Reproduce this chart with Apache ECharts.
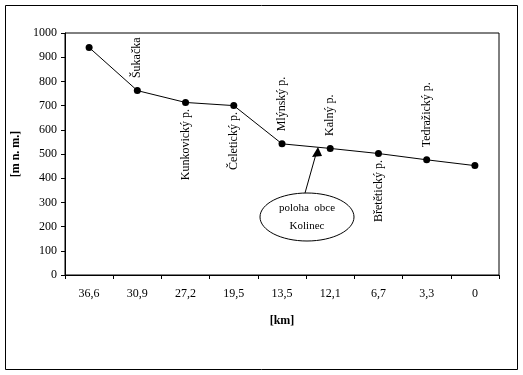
<!DOCTYPE html>
<html>
<head>
<meta charset="utf-8">
<script src="https://cdn.jsdelivr.net/npm/echarts@6/dist/echarts.min.js"></script>
<style>
    html, body { margin: 0; padding: 0; background: #fff; }
    #chart { width: 523px; height: 375px; }
</style>
</head>
<body>
<div id="chart"></div>
<script>
    // vzdálenost od ústí [km]
    let km = ['36,6', '30,9', '27,2', '19,5', '13,5', '12,1', '6,7', '3,3', '0'];
    // nadmořská výška [m n. m.]
    let vyska = [940, 762, 713, 700, 542, 523, 502, 476, 452];
    // názvy přítoků u bodů ('' = bez popisku)
    let pritoky = ['', 'Šukačka', 'Kunkovický p.', 'Čeletický p.', 'Mlýnský p.', 'Kalný p.', 'Břetětický p.', 'Tedražický p.', ''];
    let polohaPopisku = ['', 'top', 'bottom', 'bottom', 'top', 'top', 'bottom', 'top', ''];

    let font = 'Liberation Serif';

    let data = vyska.map(function (v, i) {
        let item = {value: v};
        if (pritoky[i]) {
            let nahoru = polohaPopisku[i] === 'top';
            item.label = {
                show: true,
                formatter: pritoky[i],
                position: polohaPopisku[i],
                rotate: 90,
                align: nahoru ? 'left' : 'right',
                verticalAlign: 'middle',
                distance: 6,
                offset: [3, 0],
                color: '#000',
                fontFamily: font,
                fontSize: 12
            };
        }
        return item;
    });

    let chart = echarts.init(document.getElementById('chart'));
    chart.setOption({
        animation: false,
        backgroundColor: '#fff',
        grid: {
            left: 65,
            top: 33,
            right: 24,
            bottom: 100,
            show: true,
            borderColor: '#000',
            borderWidth: 1
        },
        xAxis: {
            type: 'category',
            data: km,
            boundaryGap: true,
            name: '[km]',
            nameLocation: 'middle',
            nameGap: 40,
            nameTextStyle: {color: '#000', fontFamily: font, fontSize: 12, fontWeight: 'bold'},
            axisLine: {lineStyle: {color: '#000', width: 1}},
            axisTick: {show: true, length: 4, lineStyle: {color: '#000'}},
            axisLabel: {color: '#000', fontFamily: font, fontSize: 12, margin: 13},
            splitLine: {show: false}
        },
        yAxis: {
            type: 'value',
            min: 0,
            max: 1000,
            interval: 100,
            name: '[m n. m.]',
            nameLocation: 'middle',
            nameGap: 40,
            nameRotate: 90,
            nameTextStyle: {color: '#000', fontFamily: font, fontSize: 12, fontWeight: 'bold'},
            axisLine: {show: true, lineStyle: {color: '#000', width: 1}},
            axisTick: {show: true, length: 4, lineStyle: {color: '#000'}},
            axisLabel: {
                color: '#000', fontFamily: font, fontSize: 12, margin: 8,
                formatter: function (v) { return String(v); }
            },
            splitLine: {show: false}
        },
        graphic: [
            {
                type: 'rect',
                shape: {x: 5.5, y: 5.5, width: 512, height: 364},
                style: {fill: 'none', stroke: '#000', lineWidth: 1},
                silent: true
            },
            {
                type: 'line',
                shape: {x1: 305, y1: 193, x2: 316, y2: 154},
                style: {stroke: '#000', lineWidth: 1}
            },
            {
                type: 'polygon',
                shape: {points: [[318, 147], [312, 157], [322, 156]]},
                style: {fill: '#000'}
            },
            {
                type: 'ellipse',
                shape: {cx: 307, cy: 217, rx: 47, ry: 24},
                style: {fill: '#fff', stroke: '#000', lineWidth: 1}
            },
            {
                type: 'text',
                x: 307,
                y: 217,
                style: {
                    text: 'poloha  obce\nKolinec',
                    fill: '#000',
                    font: '11px "Liberation Serif"',
                    align: 'center',
                    verticalAlign: 'middle',
                    lineHeight: 18
                }
            }
        ],
        series: [
            {
                type: 'line',
                data: data,
                symbol: 'circle',
                symbolSize: 7,
                itemStyle: {color: '#000'},
                lineStyle: {color: '#000', width: 1}
            }
        ]
    });
</script>
</body>
</html>
